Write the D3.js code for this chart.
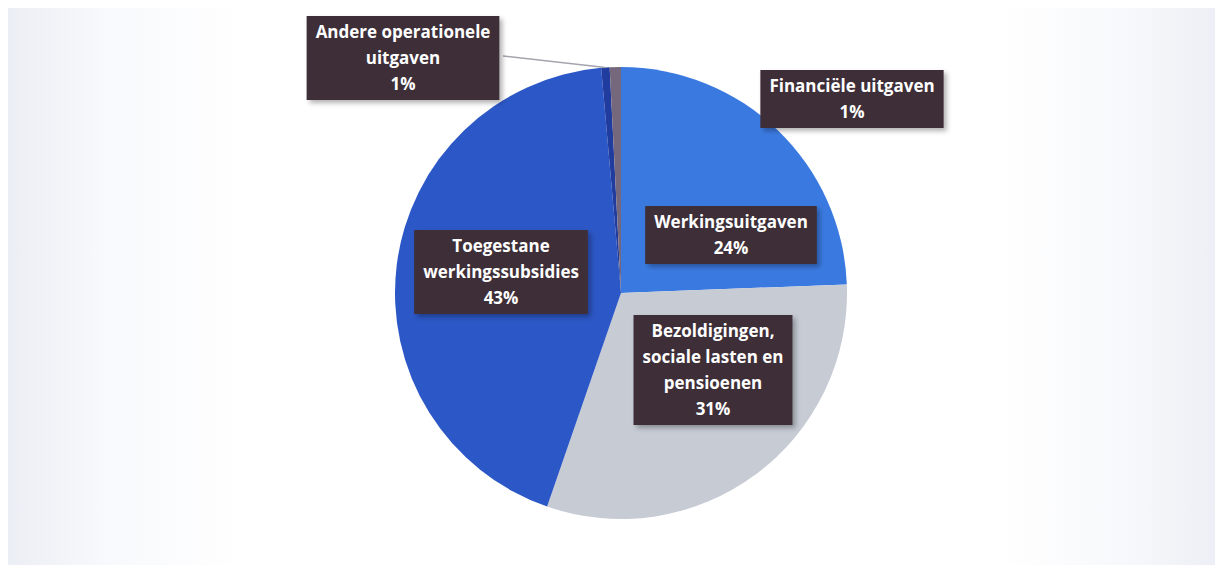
<!DOCTYPE html>
<html lang="en">
<head>
    <script src="https://d3js.org/d3.v7.min.js"></script>
    <style>
        body {
            margin: 0px;
            background: #fff;
        }
        text {
            font-family: "Open Sans", sans-serif;
            font-weight: 700;
            font-size: 17px;
        }
    </style>
</head>
<body>
<svg id="chart"></svg>
<script>
// Data (shares in %, shown rounded)
var categories = ["Werkingsuitgaven", "Bezoldigingen, sociale lasten en pensioenen",
    "Toegestane werkingssubsidies", "Andere operationele uitgaven", "Financiële uitgaven"];
var values = [24.4, 30.9, 43.3, 0.6, 0.8];
var labelLines = [
    ["Werkingsuitgaven"],
    ["Bezoldigingen,", "sociale lasten en", "pensioenen"],
    ["Toegestane", "werkingssubsidies"],
    ["Andere operationele", "uitgaven"],
    ["Financiële uitgaven"]
];

// Layout
var width = 1223;
var height = 573;
var cx = 621, cy = 293, radius = 226;
var colors = ["#3a7ae0", "#c6cbd4", "#2c57c6", "#1f3c9e", "#76687c"];
// label box centres, relative to pie centre
var labelPos = [[110, -58], [92, 77], [-120, -21], [-218, -235], [231, -194]];
var lineH = 26;

var svg = d3.select("#chart")
    .attr("width", width)
    .attr("height", height);

var defs = svg.append("defs");
var grad = defs.append("linearGradient").attr("id", "bg");
grad.append("stop").attr("offset", "0%").attr("stop-color", "#ebeef4");
grad.append("stop").attr("offset", "8%").attr("stop-color", "#f8f9fc");
grad.append("stop").attr("offset", "20%").attr("stop-color", "#ffffff");
grad.append("stop").attr("offset", "82%").attr("stop-color", "#ffffff");
grad.append("stop").attr("offset", "93%").attr("stop-color", "#f7f8fb");
grad.append("stop").attr("offset", "100%").attr("stop-color", "#eceff5");

var shadow = defs.append("filter").attr("id", "shadow")
    .attr("x", "-10%").attr("y", "-10%").attr("width", "130%").attr("height", "140%");
shadow.append("feDropShadow")
    .attr("dx", 3).attr("dy", 3).attr("stdDeviation", 2.5)
    .attr("flood-color", "#000").attr("flood-opacity", 0.3);

svg.append("rect")
    .attr("x", 8).attr("y", 8)
    .attr("width", width - 16).attr("height", height - 16)
    .attr("fill", "url(#bg)");

var pie = d3.pie().sort(null).startAngle(0).endAngle(2 * Math.PI);
var arcs = pie(values);
var arc = d3.arc().innerRadius(0).outerRadius(radius);

var g = svg.append("g")
    .attr("transform", "translate(" + cx + "," + cy + ")");

g.selectAll("path")
    .data(arcs)
    .enter().append("path")
    .attr("d", arc)
    .style("fill", function(d, i) { return colors[i]; });

// leader line for the small slice on the left
var outer = d3.arc().innerRadius(radius).outerRadius(radius);
var tip = outer.centroid(arcs[3]);
g.append("line")
    .attr("x1", labelPos[3][0] + 100).attr("y1", labelPos[3][1] - 2)
    .attr("x2", tip[0]).attr("y2", tip[1])
    .attr("stroke", "#a3a4ae")
    .attr("stroke-width", 1.5);

// data labels
var labels = g.selectAll("g.label")
    .data(arcs)
    .enter().append("g")
    .attr("class", "label")
    .attr("transform", function(d, i) {
        return "translate(" + labelPos[i][0] + "," + labelPos[i][1] + ")";
    });

labels.each(function(d, i) {
    var lab = d3.select(this);
    var lines = labelLines[i].concat([Math.round(d.value) + "%"]);
    var box = lab.append("rect").attr("fill", "#3e2f38").attr("filter", "url(#shadow)");
    var t = lab.append("text")
        .attr("text-anchor", "middle")
        .attr("fill", "#fff");
    var y0 = -(lines.length - 1) * lineH / 2;
    lines.forEach(function(s, k) {
        t.append("tspan")
            .attr("x", 0)
            .attr("y", y0 + k * lineH)
            .attr("dy", "0.35em")
            .text(s);
    });
    var w = t.node().getBBox().width + 18;
    var h = lines.length * lineH + 6;
    box.attr("x", -w / 2).attr("y", -h / 2).attr("width", w).attr("height", h);
});
</script>
</body>
</html>
